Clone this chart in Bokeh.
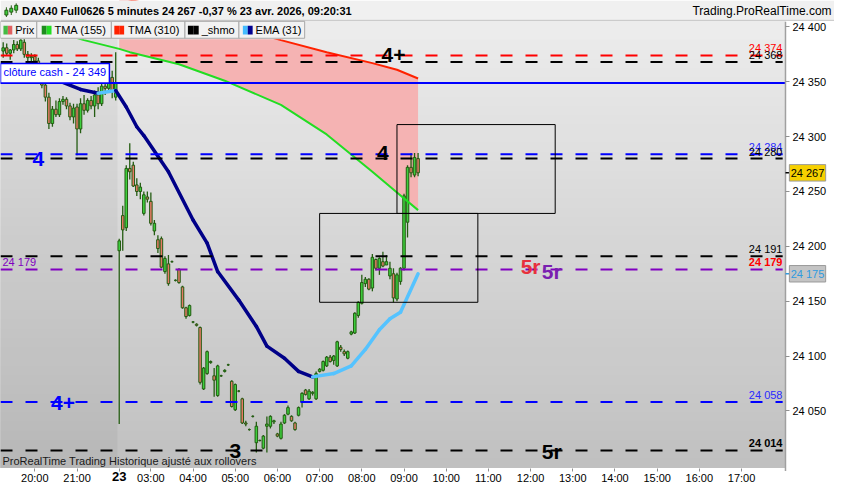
import numpy as np
from bokeh.plotting import figure
from bokeh.models import Range1d, FixedTicker
from bokeh.core.properties import value
from bokeh.embed import file_html
from bokeh.resources import INLINE

FONT = "Liberation Sans"

# ---------------- data (5-minute candles) ----------------
# previous session 22 avr. 19:15 -> 21:55
prev_open = [24378, 24381, 24376, 24379, 24384, 24380, 24386, 24375, 24372, 24373, 24369,
             24358, 24347, 24336, 24312, 24325, 24320, 24332, 24334, 24328, 24318, 24327,
             24307, 24330, 24324, 24333, 24328, 24338, 24330, 24346, 24344, 24354, 24336]
prev_high = [24386, 24385, 24380, 24388, 24387, 24391, 24389, 24378, 24376, 24375, 24372,
             24360, 24349, 24340, 24328, 24333, 24335, 24337, 24336, 24331, 24330, 24330,
             24335, 24338, 24335, 24337, 24342, 24345, 24350, 24352, 24357, 24360, 24377]
prev_low = [24372, 24374, 24370, 24376, 24378, 24378, 24372, 24368, 24367, 24366, 24355,
            24344, 24332, 24307, 24309, 24318, 24318, 24329, 24325, 24315, 24312, 24283,
            24303, 24320, 24322, 24325, 24318, 24325, 24328, 24338, 24340, 24335, 24333]
prev_close = [24381, 24376, 24379, 24384, 24380, 24388, 24375, 24372, 24373, 24369, 24358,
              24347, 24336, 24312, 24325, 24320, 24332, 24334, 24328, 24318, 24326, 24307,
              24330, 24324, 24333, 24328, 24338, 24330, 24346, 24344, 24354, 24342, 24349]

# session 23 avr. 02:15 -> 09:20
day_open = [24196, 24228, 24217, 24271, 24274, 24256, 24250, 24230, 24245, 24241, 24214,
            24206, 24207, 24177, 24184, 24186, 24169, 24179, 24163, 24144, 24137, 24131,
            24129, 24126, 24070, 24084, 24094, 24082, 24064, 24082, 24086, 24092, 24077,
            24051, 24068, 24061, 24039, 24033, 24045, 24021, 24023, 24016, 24036, 24036,
            24040, 24029, 24025, 24039, 24047, 24045, 24039, 24046, 24058, 24069, 24061,
            24066, 24061, 24086, 24087, 24091, 24099, 24096, 24091, 24108, 24104, 24098,
            24120, 24121, 24137, 24148, 24166, 24170, 24162, 24188, 24180, 24186, 24183,
            24173, 24175, 24152, 24168, 24180, 24222, 24272, 24265, 24280]
day_high = [24207, 24237, 24274, 24294, 24277, 24262, 24258, 24250, 24250, 24249, 24224,
            24210, 24209, 24191, 24192, 24187, 24170, 24180, 24164, 24145, 24147, 24132,
            24130, 24127, 24090, 24105, 24096, 24089, 24092, 24083, 24088, 24093, 24078,
            24075, 24069, 24062, 24041, 24034, 24046, 24040, 24024, 24028, 24045, 24046,
            24042, 24030, 24040, 24047, 24055, 24046, 24040, 24054, 24067, 24070, 24070,
            24068, 24086, 24089, 24096, 24100, 24101, 24101, 24114, 24110, 24106, 24105,
            24123, 24140, 24150, 24174, 24172, 24171, 24193, 24189, 24190, 24195, 24192,
            24186, 24180, 24176, 24181, 24248, 24274, 24285, 24285, 24285]
day_low = [24038, 24196, 24214, 24261, 24254, 24246, 24243, 24228, 24240, 24219, 24210,
           24194, 24180, 24175, 24164, 24185, 24168, 24166, 24143, 24134, 24136, 24130,
           24127, 24074, 24069, 24083, 24093, 24063, 24063, 24081, 24085, 24091, 24053,
           24050, 24067, 24038, 24036, 24032, 24044, 24012, 24022, 24015, 24012, 24034,
           24038, 24026, 24024, 24038, 24046, 24040, 24032, 24045, 24053, 24064, 24060,
           24064, 24060, 24085, 24086, 24090, 24094, 24092, 24090, 24104, 24100, 24097,
           24119, 24120, 24135, 24147, 24163, 24160, 24159, 24178, 24174, 24181, 24183,
           24170, 24149, 24150, 24165, 24178, 24208, 24263, 24263, 24264]
day_close = [24205, 24215, 24271, 24268, 24255, 24250, 24254, 24247, 24243, 24221, 24221,
             24198, 24181, 24189, 24166, 24186, 24169, 24167, 24144, 24136, 24146, 24131,
             24128, 24076, 24089, 24104, 24095, 24078, 24091, 24082, 24087, 24092, 24054,
             24074, 24068, 24039, 24038, 24033, 24045, 24036, 24023, 24027, 24038, 24045,
             24041, 24027, 24038, 24046, 24053, 24041, 24033, 24053, 24066, 24065, 24068,
             24067, 24084, 24088, 24095, 24099, 24095, 24100, 24113, 24106, 24102, 24104,
             24122, 24139, 24149, 24167, 24170, 24161, 24190, 24180, 24189, 24182, 24186,
             24180, 24153, 24174, 24180, 24246, 24272, 24267, 24281, 24267]

prev_start = "19:15"
day_start = "02:15"
tick_labels = ["20:00", "21:00", "23", "03:00", "04:00", "05:00", "06:00", "07:00", "08:00",
               "09:00", "10:00", "11:00", "12:00", "13:00", "14:00", "15:00", "16:00", "17:00"]
price_ticks = [24050, 24100, 24150, 24200, 24250, 24300, 24350, 24400]

# indicators (candle slot, value)
tma_slots = [10, 23, 33, 36, 50, 63, 79, 92, 105, 112, 118]
tma155 = [24400, 24388, 24380, 24377, 24366, 24351, 24329, 24302, 24268, 24249, 24233]
tma310 = [24447, 24436, 24428, 24425, 24413, 24402, 24388, 24377, 24367, 24361, 24353]
ema_slots = [0, 15, 22, 27, 32, 35, 38, 40, 47, 54, 58, 61, 67, 72, 75, 80, 84, 88, 94,
             99, 103, 107, 110, 113, 118]
ema31 = [24358, 24352, 24343, 24339.5, 24342, 24327, 24309, 24301, 24268, 24224, 24203,
         24177, 24151, 24127, 24109, 24098, 24086, 24081, 24084, 24091, 24106, 24124,
         24134, 24140, 24175]

# horizontal levels
level_prices = [24374, 24368, 24284, 24280, 24191, 24179, 24058, 24014]
level_colors = ["#ff0000", "#000000", "#0000ff", "#000000", "#000000", "#8000c0", "#0000ff", "#000000"]
level_text_colors = ["#ff0000", "#000000", "#2a2aff", "#000000", "#000000", "#ff0000", "#2a2aff", "#000000"]
level_bold = [False, False, False, False, False, True, False, True]
cash_close = 24349
last_price = 24267
ema_last = 24175

# drawn zones
zone_left = [90, 112]
zone_right = [135, 157]
zone_bottom = [24149, 24230]
zone_top = [24230, 24311]

# wave annotations
wave_text = ["4+", "4", "4", "5r", "5r", "4+", "3", "5r"]
wave_slot = [111, 10, 108, 150, 156, 17, 66, 156]
wave_price = [24374, 24280, 24285, 24182, 24177, 24057, 24013, 24013]
wave_color = ["#000000", "#0000ff", "#000000", "#e8303c", "#7a1fb0", "#0000ff", "#000000", "#000000"]

legend_names = ["Prix", "TMA (155)", "TMA (310)", "_shmo", "EMA (31)"]
legend_col_a = ["#44bb44", "#1e8c1e", "#ff2200", "#000000", "#44bbff"]
legend_col_b = ["#e06060", "#22dd22", "#ff2200", "#000000", "#000090"]

title_text = "DAX40 Full0626 5 minutes 24 267 -0,37 % 23 avr. 2026, 09:20:31"
site_text = "Trading.ProRealTime.com"
footer_text = "ProRealTime Trading Historique ajusté aux rollovers"

# ---------------- geometry ----------------
# the frame covers the whole canvas; axes are drawn at fixed locations
X0, XE = -0.767, 236.44        # x range (candle slots)
XA = 222.5                     # price axis location
Y1, YE = 24424.1, 23982.9      # y range (price)
YA = 23997.9                   # time axis location
REF_W, REF_H = 850.0, 500.0


def fx(px):
    return X0 + px / REF_W * (XE - X0)


def fy(py):
    return Y1 - py / REF_H * (Y1 - YE)


def tmin(s):
    h, m = s.split(":")
    return int(h) * 60 + int(m)


def fmt(v):
    v = int(round(v))
    return f"{v // 1000} {v % 1000:03d}"


n_prev = len(prev_open)
tick_slots = []
for lab in tick_labels:
    if lab == "23":
        tick_slots.append(n_prev)
    elif lab in ("20:00", "21:00"):
        tick_slots.append((tmin(lab) - tmin(prev_start)) / 5)
    else:
        tick_slots.append(n_prev + (tmin(lab) - tmin(day_start)) / 5)

p = figure(frame_width=834, frame_height=484, x_range=Range1d(X0, XE), y_range=Range1d(YE, Y1),
           output_backend="svg", toolbar_location=None, y_axis_location="right", title=None,
           min_border_left=0, min_border_top=0, min_border_right=0, min_border_bottom=0,
           border_fill_color="white", background_fill_color="white", outline_line_color=None)
p.grid.visible = False

# background gradient of the price panel
nb = 48
edges = np.linspace(fy(22), YA, nb + 1)
for k in range(nb):
    t = (k + 0.5) / nb
    g = int(round(236 - t * 44))
    p.quad(left=X0, right=XA, top=edges[k], bottom=YA, fill_color=f"#{g:02x}{g:02x}{g:02x}",
           line_color=None)

# previous session shade
p.quad(left=X0, right=n_prev - 0.5, top=fy(22), bottom=YA, fill_color="black",
       fill_alpha=0.045, line_color=None)

# TMA fill (day session)
s0 = tma_slots.index(n_prev)
p.varea(x=tma_slots[s0:], y1=tma155[s0:], y2=tma310[s0:], fill_color="#f5b3b3")

# candles
o = np.array(prev_open + day_open, float)
h = np.array(prev_high + day_high, float)
l = np.array(prev_low + day_low, float)
c = np.array(prev_close + day_close, float)
xs = np.arange(len(o))
WICK = "#245c12"
cols = ["#3dcf3d" if c[i] >= o[i] else "#e57a66" for i in range(len(o))]
p.segment(x0=xs, y0=l, x1=xs, y1=h, line_color=WICK, line_width=1.3)
p.vbar(x=xs, width=0.72, top=np.maximum(o, c), bottom=np.minimum(o, c), fill_color=cols,
       line_color=WICK, line_width=1)

# TMA lines
p.line(tma_slots, tma155, line_color="#22dd22", line_width=2)
p.line(tma_slots, tma310, line_color="#ff2200", line_width=2)

# EMA coloured by direction
ex = np.array(ema_slots, float)
ey = np.array(ema31, float)
seg_col = ["#55c3ff" if ey[i + 1] > ey[i] else "#000088" for i in range(len(ey) - 1)]
p.segment(x0=ex[:-1], y0=ey[:-1], x1=ex[1:], y1=ey[1:], line_color=seg_col, line_width=3.5,
          line_cap="round")

# level lines
nl = len(level_prices)
p.segment(x0=[X0] * nl, x1=[XA - 0.8] * nl, y0=level_prices, y1=level_prices,
          line_color=level_colors, line_width=2, line_dash="12 13")
p.segment(x0=[X0], x1=[XA], y0=[cash_close], y1=[cash_close], line_color="#0000ff", line_width=2)

# zones
p.quad(left=zone_left, right=zone_right, bottom=zone_bottom, top=zone_top, fill_color=None,
       line_color="black", line_width=1)

# level labels on right
for bold in (False, True):
    idx = [i for i in range(nl) if level_bold[i] == bold]
    p.text(x=[XA] * len(idx), y=[level_prices[i] for i in idx],
           text=[fmt(level_prices[i]) for i in idx],
           text_color=[level_text_colors[i] for i in idx], x_offset=-3, y_offset=-1,
           text_align="right", text_baseline="bottom", text_font=value(FONT),
           text_font_size="11px", text_font_style="bold" if bold else "normal")
lv = level_prices[5]
p.text(x=[X0], y=[lv], text=[fmt(lv)], x_offset=2, y_offset=-1,
       text_color="#8000c0", text_align="left", text_baseline="bottom", text_font=value(FONT),
       text_font_size="11px")

# wave labels
p.text(x=wave_slot, y=wave_price, text=wave_text, text_color=wave_color, text_align="center",
       text_baseline="middle", text_font=value(FONT), text_font_size="21px",
       text_font_style="bold")

# cash close box
p.quad(left=[fx(0)], right=[fx(111)], top=[fy(65)], bottom=[cash_close], fill_color="white",
       line_color="#0000ff", line_width=1.5)
p.text(x=[fx(3)], y=[fy(73.5)], text=[f"clôture cash - {fmt(cash_close)}"],
       text_color="#0000ff", text_baseline="middle", text_font=value(FONT), text_font_size="11px")

# footer text
p.text(x=[fx(2)], y=[fy(476)], text=[footer_text],
       text_color="#1a1a1a", text_baseline="middle", text_font=value(FONT), text_font_size="11px")

# header strip over the top of the price panel, then title bar
p.quad(left=X0, right=XA, top=fy(20.5), bottom=fy(40), fill_color="#ececec", line_color=None)
p.quad(left=X0, right=XE, top=Y1, bottom=fy(20.5), fill_color="#f0f0f0", line_color=None)
p.segment(x0=[X0], x1=[XE], y0=[fy(20.5)], y1=[fy(20.5)], line_color="#c4c4c4", line_width=1)

# legend boxes
box_px = [0, 37, 113, 188, 243, 310]
txt_px = [15, 55, 130, 205, 260]
sw_px = [(3, 12), (42, 52), (116, 126), (191, 202), (247, 257)]
p.quad(left=[fx(a) for a in box_px[:-1]], right=[fx(b) for b in box_px[1:]], top=fy(21.5),
       bottom=fy(39), fill_color="#f2f2f2", line_color="#a8a8a8", line_width=1)
p.quad(left=[fx(a) for a, b in sw_px], right=[fx((a + b) / 2) for a, b in sw_px], top=fy(26),
       bottom=fy(35), fill_color=legend_col_a, line_color=None)
p.quad(left=[fx((a + b) / 2) for a, b in sw_px], right=[fx(b) for a, b in sw_px], top=fy(26),
       bottom=fy(35), fill_color=legend_col_b, line_color=None)
p.text(x=[fx(v) for v in txt_px], y=[fy(30.5)] * 5, text=legend_names, text_color="black",
       text_baseline="middle", text_font=value(FONT), text_font_size="11px")

# title + icon + site name
p.text(x=[fx(22)], y=[fy(10.5)], text=[title_text], text_color="black", text_baseline="middle",
       text_font=value(FONT), text_font_size="11px", text_font_style="bold")
ic_x = [6, 11, 16]
p.segment(x0=[fx(v) for v in ic_x], x1=[fx(v) for v in ic_x], y0=[fy(17), fy(15), fy(13)],
          y1=[fy(7), fy(5), fy(3)], line_color=WICK, line_width=1)
p.quad(left=[fx(v - 1.5) for v in ic_x], right=[fx(v + 1.5) for v in ic_x],
       top=[fy(10), fy(8), fy(5)], bottom=[fy(15), fy(12), fy(10)], fill_color="#3dcf3d",
       line_color=WICK, line_width=1)
p.text(x=[fx(847)], y=[fy(10.5)], text=[site_text], text_color="black", text_align="right",
       text_baseline="middle", text_font=value(FONT), text_font_size="12px")

# price axis line and tags
p.segment(x0=[XA], x1=[XA], y0=[fy(22)], y1=[fy(486)], line_color="#a0a0a0", line_width=1.5)
p.segment(x0=[XA, XA], x1=[fx(804), fx(804)], y0=[last_price, ema_last], y1=[last_price, ema_last],
          line_color=["black", "#2f9be0"], line_width=1.5)
p.quad(left=[fx(804), fx(804)], right=[fx(841), fx(841)],
       top=[last_price + 7.5, ema_last + 7.5], bottom=[last_price - 7.5, ema_last - 7.5],
       fill_color=["#f6d000", "#c4c4c4"], line_color="#9a9a9a", line_width=1)
p.text(x=[fx(822.5), fx(822.5)], y=[last_price, ema_last], text=[fmt(last_price), fmt(ema_last)],
       text_color=["black", "#2f9be0"], text_align="center", text_baseline="middle",
       text_font=value(FONT), text_font_size="11px")

# bold session day label on the time axis
p.text(x=[n_prev], y=[fy(492)], text=["23"], text_color="black", text_align="center",
       text_baseline="middle", text_font=value(FONT), text_font_size="13px",
       text_font_style="bold")

# axes at fixed locations
yax = p.yaxis[0]
yax.fixed_location = XA
yax.ticker = FixedTicker(ticks=price_ticks, minor_ticks=[])
yax.major_label_overrides = {t: fmt(t) for t in price_ticks}
yax.major_label_text_font = FONT
yax.major_label_text_font_size = "11px"
yax.major_label_text_color = "black"
yax.major_tick_out = 4
yax.major_tick_in = 0
yax.minor_tick_out = 0
yax.minor_tick_in = 0
yax.major_tick_line_color = "#909090"
yax.axis_line_color = None
yax.major_label_standoff = 3

xax = p.xaxis[0]
xax.fixed_location = YA
xax.ticker = FixedTicker(ticks=tick_slots, minor_ticks=[])
xax.major_label_overrides = {s: ("" if lab == "23" else lab) for s, lab in zip(tick_slots, tick_labels)}
xax.major_label_text_font = FONT
xax.major_label_text_font_size = "11px"
xax.major_label_text_color = "black"
xax.major_tick_out = 3
xax.major_tick_in = 0
xax.minor_tick_out = 0
xax.minor_tick_in = 0
xax.major_tick_line_color = "#909090"
xax.axis_line_color = None
xax.major_label_standoff = 1

open("out.html", "w").write(file_html(p, INLINE))
